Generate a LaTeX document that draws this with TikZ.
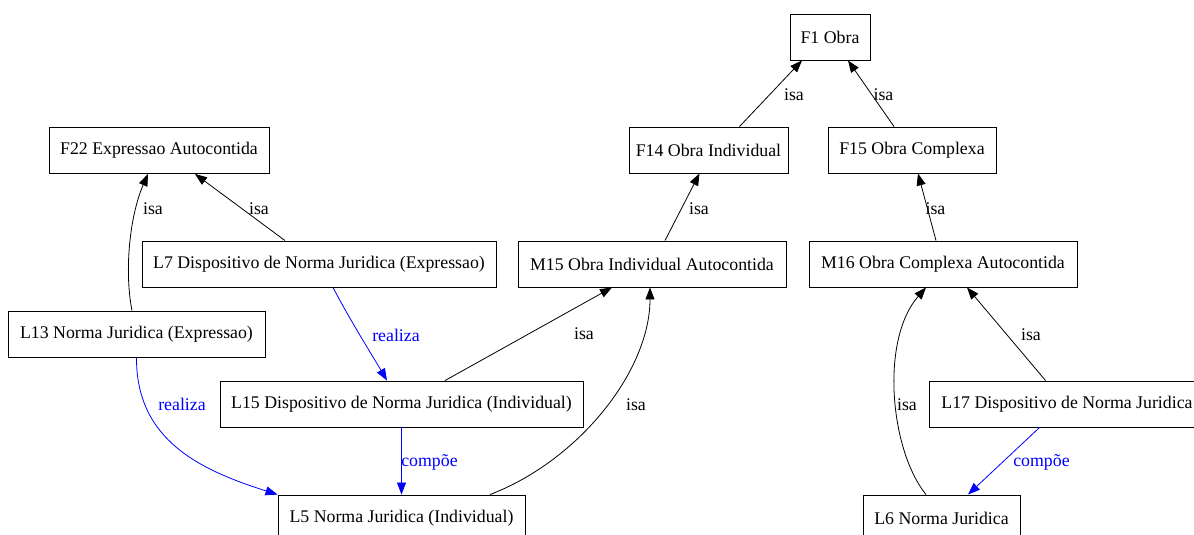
\documentclass[tikz,border=0pt]{standalone}
\usepackage{fontspec}
\setmainfont{Liberation Serif}
\usetikzlibrary{arrows.meta}
\newcommand\gvfont{\fontsize{17.8}{20}\selectfont}
\definecolor{gvblue}{RGB}{0,0,255}
\tikzset{
  box/.style={draw, rectangle, inner sep=0pt, minimum height=46pt, line width=0.9pt, font=\gvfont},
  lbl/.style={inner sep=0pt, font=\gvfont},
  bl/.style={lbl, text=gvblue},
  isaedge/.style={line width=0.8pt, -{Triangle[length=12pt,width=9pt]}},
  reledge/.style={line width=0.8pt, draw=gvblue, -{Triangle[length=12pt,width=9pt]}, gvblue},
}
\begin{document}
\begin{tikzpicture}[x=1pt,y=-1pt]
\useasboundingbox (0,0) rectangle (1194,535);
\clip (0,0) rectangle (1194,535);
\fill[white] (0,0) rectangle (1194,535);
% nodes
\node[box, minimum width=80pt]  (f1)  at (830,37)    {F1 Obra};
\node[box, minimum width=159pt] (f14) at (708.5,150) {F14 Obra Individual};
\node[box, minimum width=168pt] (f15) at (912,150)   {F15 Obra Complexa};
\node[box, minimum width=220pt] (f22) at (159,150.5) {F22 Expressao Autocontida};
\node[box, minimum width=354pt] (l7)  at (319,264)   {L7 Dispositivo de Norma Juridica (Expressao)};
\node[box, minimum width=268pt] (m15) at (652,264)   {M15 Obra Individual Autocontida};
\node[box, minimum width=268pt] (m16) at (943,264)   {M16 Obra Complexa Autocontida};
\node[box, minimum width=257pt] (l13) at (136.5,334) {L13 Norma Juridica (Expressao)};
\node[box, minimum width=363pt] (l15) at (401.5,404) {L15 Dispositivo de Norma Juridica (Individual)};
\node[box, minimum width=276pt] (l17) at (1067,404)  {L17 Dispositivo de Norma Juridica};
\node[box, minimum width=247pt] (l5)  at (401.5,518) {L5 Norma Juridica (Individual)};
\node[box, minimum width=157pt] (l6)  at (941.5,518) {L6 Norma Juridica};
% isa edges
\draw[isaedge] ([xshift=31pt]f14.north) -- ([xshift=-28pt]f1.south);
\draw[isaedge] ([xshift=-18pt]f15.north) -- ([xshift=18pt]f1.south);
\draw[isaedge] ([xshift=13pt]m15.north) -- ([xshift=-9pt]f14.south);
\draw[isaedge] ([xshift=-7pt]m16.north) -- ([xshift=6pt]f15.south);
\draw[isaedge] ([xshift=-4.5pt]l13.north) .. controls (124,270) and (130,215) .. ([xshift=-11pt]f22.south);
\draw[isaedge] ([xshift=-34pt]l7.north) -- ([xshift=36pt]f22.south);
\draw[isaedge] ([xshift=43.5pt]l15.north) -- ([xshift=-40pt]m15.south);
\draw[isaedge] ([xshift=88.5pt]l5.north) .. controls (580,460) and (650,370) .. ([xshift=-2pt]m15.south);
\draw[isaedge] ([xshift=117pt]l17.north west) -- ([xshift=24pt]m16.south);
\draw[isaedge] ([xshift=-15.5pt]l6.north) .. controls (890,450) and (880,340) .. ([xshift=-17pt]m16.south);
% blue edges
\draw[reledge] ([xshift=14pt]l7.south) .. controls (350,320) and (372,355) .. ([xshift=-14.5pt]l15.north);
\draw[reledge] (l13.south) .. controls (136,440) and (200,470) .. (l5.north west);
\draw[reledge] (l15.south) -- (l5.north);
\draw[reledge] ([xshift=111pt]l17.south west) -- ([xshift=26.5pt]l6.north);
% labels
\node[lbl] (t1)  at (794,95)    {isa};
\node[lbl] (t2)  at (883.5,95)  {isa};
\node[lbl] (t3)  at (699,209)   {isa};
\node[lbl] (t4)  at (935.5,209) {isa};
\node[lbl] (t5)  at (153,209)   {isa};
\node[lbl] (t6)  at (259,209)   {isa};
\node[lbl] (t7)  at (584,334)   {isa};
\node[lbl] (t8)  at (636,405)   {isa};
\node[lbl] (t9)  at (1031,335)  {isa};
\node[lbl] (t10) at (907,405)   {isa};
\node[bl]  (b1)  at (396,335)   {realiza};
\node[bl]  (b2)  at (182,404)   {realiza};
\node[bl]  (b3)  at (429.5,462) {compõe};
\node[bl]  (b4)  at (1041.5,462){compõe};
\end{tikzpicture}
\end{document}
